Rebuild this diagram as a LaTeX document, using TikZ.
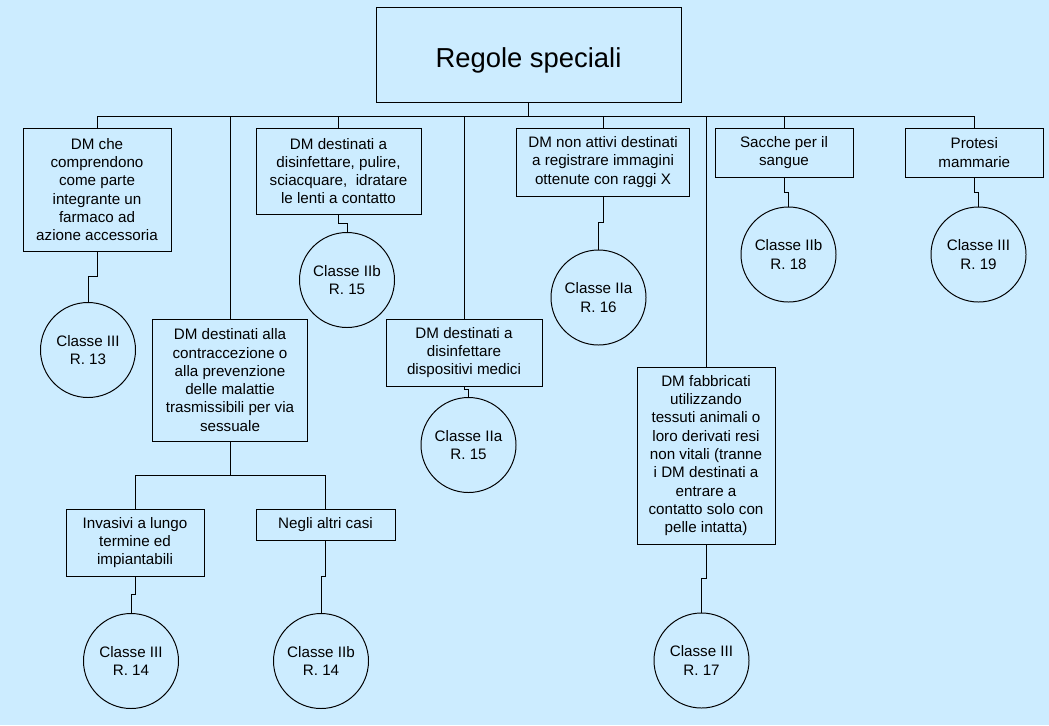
\documentclass[tikz,border=0pt]{standalone}
\usepackage{fontspec}
\setmainfont{Liberation Sans}
\usepackage{xcolor}
\usetikzlibrary{positioning}
\definecolor{bgBlue}{HTML}{CCECFF}

\begin{document}
\begin{tikzpicture}[x=0.025cm, y=-0.025cm, line width=0.7pt,
        font=\fontsize{10.8}{13}\selectfont,
        rulebox/.style 2 args={draw, align=center, inner sep=1pt,
            minimum width=#1*0.025cm, minimum height=#2*0.025cm},
        classe/.style={draw, circle, align=center, inner sep=0pt,
            minimum size=95*0.025cm}]
        \fill[bgBlue] (0,0) rectangle (1049,725);

        % titolo
        \node[draw, minimum width=305*0.025cm, minimum height=95*0.025cm,
            text height=17.8pt, text depth=0pt,
            font=\fontsize{19.5}{23}\selectfont] (title) at (528.5,54.5) {Regole speciali};

        % regole
        \node[rulebox={148}{123}] (farmaco) at (97,189.5)
            {DM che\\comprendono\\come parte\\integrante un\\farmaco ad\\azione accessoria};
        \node[rulebox={165}{86}] (lenti) at (338.5,171)
            {DM destinati a\\disinfettare, pulire,\\sciacquare,\ \ idratare\\le lenti a contatto};
        \node[rulebox={155.5}{122}] (contracc) at (230,380)
            {DM destinati alla\\contraccezione o\\alla prevenzione\\delle malattie\\trasmissibili per via\\sessuale};
        \node[rulebox={156}{67}] (disinf) at (464,352.5)
            {DM destinati a\\disinfettare\\dispositivi medici};
        \node[rulebox={172.5}{68}] (raggi) at (603,162)
            {DM non attivi destinati\\a registrare immagini\\ottenute con raggi X};
        \node[rulebox={138}{177}] (tessuti) at (706,455.5)
            {DM fabbricati\\utilizzando\\tessuti animali o\\loro derivati resi\\non vitali (tranne\\i DM destinati a\\entrare a\\contatto solo con\\pelle intatta)};
        \node[rulebox={138}{49}] (sacche) at (784,152.5) {Sacche per il\\sangue};
        \node[rulebox={137.5}{49}] (protesi) at (974.25,152.5) {Protesi\\mammarie};
        \node[rulebox={138}{67}] (invasivi) at (135,542.5) {Invasivi a lungo\\termine ed\\impiantabili};
        \node[rulebox={139}{31}] (altri) at (325.5,524.5) {Negli altri casi};

        % classi
        \node[classe] (r13)  at (88,350)      {Classe III\\R. 13};
        \node[classe] (r15b) at (347,280)     {Classe IIb\\R. 15};
        \node[classe] (r14a) at (131,661)     {Classe III\\R. 14};
        \node[classe] (r14b) at (321,661)     {Classe IIb\\R. 14};
        \node[classe] (r15a) at (468.5,445)   {Classe IIa\\R. 15};
        \node[classe] (r16)  at (598.5,297.5) {Classe IIa\\R. 16};
        \node[classe] (r17)  at (701.5,660.5) {Classe III\\R. 17};
        \node[classe] (r18)  at (788.5,254.5) {Classe IIb\\R. 18};
        \node[classe] (r19)  at (978.5,254.5) {Classe III\\R. 19};

        % collegamenti
        \draw (title.south) -- ++(0,14) coordinate (bus);
        \draw (farmaco.north) |- (bus) -| (protesi.north);
        \draw[line width=1.2pt] (contracc.north |- bus) -- (bus);
        \foreach \b in {lenti, contracc, disinf, raggi, tessuti, sacche}
            \draw (\b.north) -- (\b.north |- bus);

        \draw (contracc.south) -- ++(0,34) coordinate (split);
        \draw (invasivi.north) |- (split) -| (altri.north);

        \draw (farmaco.south)  -- ++(0,25) -| (r13.north);
        \draw (lenti.south)    -- ++(0,9)  -| (r15b.north);
        \draw (disinf.south)   -- ++(0,3)  -| (r15a.north);
        \draw (raggi.south)    -- ++(0,26) -| (r16.north);
        \draw (tessuti.south)  -- ++(0,34) -| (r17.north);
        \draw (sacche.south)   -- ++(0,15) -| (r18.north);
        \draw (protesi.south)  -- ++(0,15) -| (r19.north);
        \draw (invasivi.south) -- ++(0,18) -| (r14a.north);
        \draw (altri.south)    -- ++(0,36) -| (r14b.north);
    \end{tikzpicture}
\end{document}
